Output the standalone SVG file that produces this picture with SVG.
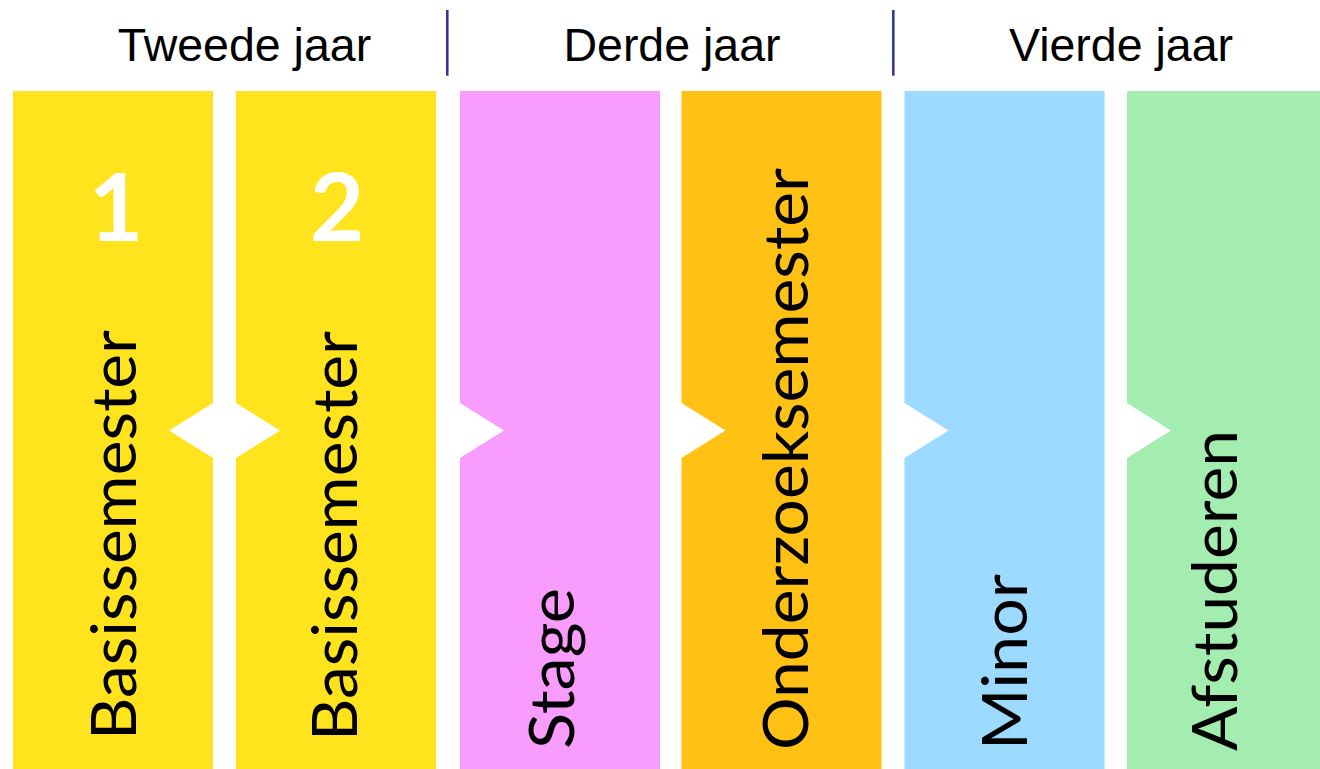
<svg xmlns="http://www.w3.org/2000/svg" width="1320" height="769" viewBox="0 0 1320 769">
<style>
.hdr{font-family:"Liberation Sans",Arial,sans-serif;font-size:46.5px;fill:#000;text-anchor:middle}
.lbl{font-family:Lato,"Open Sans",sans-serif;font-size:62px;fill:#000}
.num{font-family:Lato,"Open Sans",sans-serif;font-size:94px;font-weight:bold;fill:#fff;text-anchor:middle}
.sep{stroke:#2E3192;stroke-width:2.5}
</style>
<rect width="1320" height="769" fill="#fff"/>
<g id="headers">
<text class="hdr" x="244.5" y="61">Tweede jaar</text>
<text class="hdr" x="672" y="61">Derde jaar</text>
<text class="hdr" x="1121" y="61">Vierde jaar</text>
<line class="sep" x1="447.3" y1="10" x2="447.3" y2="75.7"/>
<line class="sep" x1="893.3" y1="10" x2="893.3" y2="75.7"/>
</g>
<g id="col1">
<polygon fill="#FFE31D" points="13,91 213,91 213,403 169,430.5 213,458 213,769 13,769"/>
<text class="num" x="116" y="241">1</text>
<text class="lbl" transform="translate(136,740) rotate(-90)" textLength="410" lengthAdjust="spacingAndGlyphs">Basissemester</text>
</g>
<g id="col2">
<polygon fill="#FFE31D" points="236,91 436,91 436,769 236,769 236,458 280,430.5 236,403"/>
<text class="num" x="337" y="241">2</text>
<text class="lbl" transform="translate(357,741) rotate(-90)" textLength="410" lengthAdjust="spacingAndGlyphs">Basissemester</text>
</g>
<g id="col3">
<polygon fill="#F89CFD" points="460,91 660,91 660,769 460,769 460,458 504,430.5 460,403"/>
<text class="lbl" transform="translate(574,749) rotate(-90)" textLength="161" lengthAdjust="spacingAndGlyphs">Stage</text>
</g>
<g id="col4">
<polygon fill="#FFC114" points="681.5,91 881.5,91 881.5,769 681.5,769 681.5,458 725.5,430.5 681.5,403"/>
<text class="lbl" transform="translate(808,750) rotate(-90)" textLength="582" lengthAdjust="spacingAndGlyphs">Onderzoeksemester</text>
</g>
<g id="col5">
<polygon fill="#9CDAFF" points="904.5,91 1104.5,91 1104.5,769 904.5,769 904.5,458 948.5,430.5 904.5,403"/>
<text class="lbl" transform="translate(1027,750) rotate(-90)" textLength="176" lengthAdjust="spacingAndGlyphs">Minor</text>
</g>
<g id="col6">
<polygon fill="#A2EDAF" points="1127,91 1327,91 1327,769 1127,769 1127,458 1171,430.5 1127,403"/>
<text class="lbl" transform="translate(1237,751) rotate(-90)" textLength="321" lengthAdjust="spacingAndGlyphs">Afstuderen</text>
</g>
</svg>
